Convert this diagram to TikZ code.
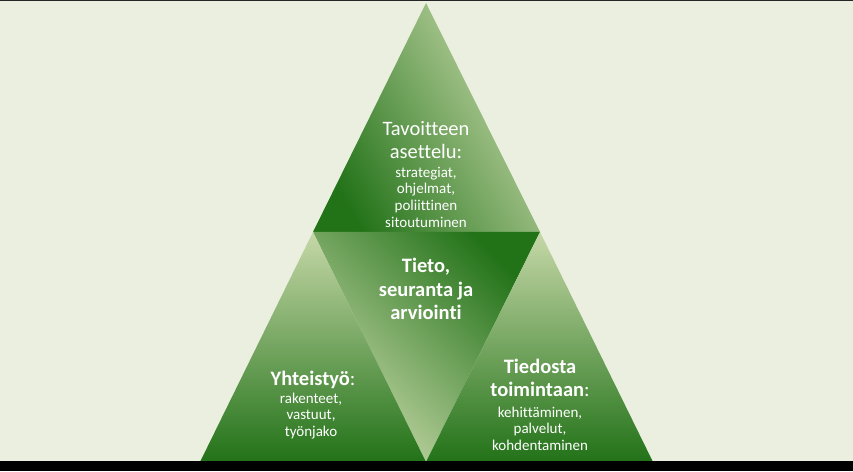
\documentclass[tikz,border=0pt]{standalone}
\usepackage{fontspec}
\setmainfont{Carlito}[Ligatures={NoCommon,NoContextual}, Contextuals=NoAlternate]
\definecolor{bgpaper}{RGB}{235,239,224}
\definecolor{leafdark}{RGB}{34,114,24}
\definecolor{leaflight}{RGB}{198,216,168}
\tikzset{
  lbl/.style={text=white, align=center, inner sep=0pt, anchor=north},
  headfont/.style={font=\fontsize{20.5}{23}\selectfont},
  subfont/.style={font=\fontsize{15}{16.7}\selectfont},
}
\begin{document}
\begin{tikzpicture}[x=1pt,y=1pt]
  % page
  \fill[bgpaper] (0,0) rectangle (853,471);
  % triangles
  \shade[top color=leaflight, bottom color=leafdark, shading angle=-60] (426,468) -- (540,239) -- (313,239) -- cycle;
  \shade[top color=leafdark, bottom color=leaflight, shading angle=-45] (313,239) -- (540,239) -- (426,9) -- cycle;
  \shade[top color=leaflight, bottom color=leafdark] (313,239) -- (426,9) -- (200,9) -- cycle;
  \shade[top color=leaflight, bottom color=leafdark] (540,239) -- (653,9) -- (426,9) -- cycle;
  % frame bands
  \fill[black!85] (0,469.5) rectangle (853,471);
  \fill[black] (0,0) rectangle (853,10);
  % texts
  \node[lbl, headfont] (tavoite) at (426,349.3) {Tavoitteen\\asettelu:};
  \node[lbl, subfont] (tavoitesub) at (426,304.5) {strategiat,\\ohjelmat,\\poliittinen\\sitoutuminen};
  \node[lbl, font=\bfseries\fontsize{20.5}{23.5}\selectfont] (tieto) at (426,213) {Tieto,\\seuranta ja\\arviointi};
  \node[lbl, headfont] (yhteis) at (313,100.5) {\textbf{Yhteistyö}:};
  \node[lbl, subfont] (yhteissub) at (311,78.5) {rakenteet,\\vastuut,\\työnjako};
  \node[lbl, headfont] (toiminta) at (540,112.5) {\textbf{Tiedosta}\\\textbf{toimintaan}:};
  \node[lbl, subfont] (toimintasub) at (540,64.5) {kehittäminen,\\palvelut,\\kohdentaminen};
\end{tikzpicture}
\end{document}
